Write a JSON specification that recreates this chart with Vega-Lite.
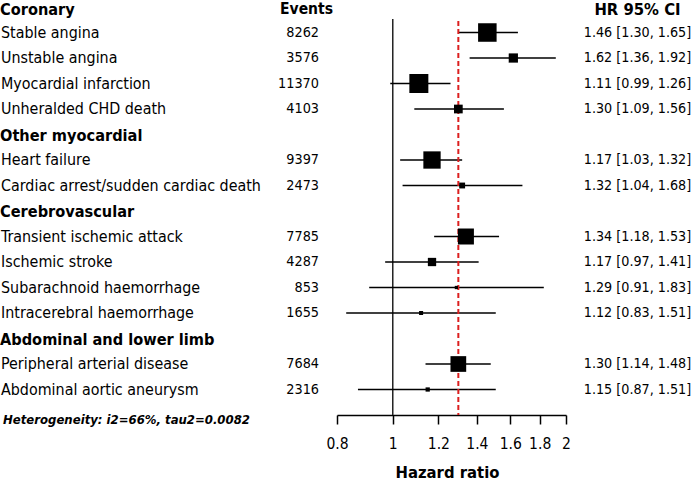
{
  "$schema": "https://vega.github.io/schema/vega-lite/v6.json",
  "padding": 0,
  "background": "white",
  "bounds": "flush",
  "spacing": 0,
  "config": {
    "view": {"stroke": null},
    "font": "DejaVu Sans Condensed",
    "concat": {"spacing": 0}
  },
  "datasets": {
    "rows": [
      {"row": 0, "label": "Coronary", "kind": "group"},
      {"row": 1, "label": "Stable angina", "kind": "item", "events": 8262, "hr": 1.46, "lo": 1.30, "hi": 1.65, "weight": 18.9, "ci": "1.46 [1.30, 1.65]"},
      {"row": 2, "label": "Unstable angina", "kind": "item", "events": 3576, "hr": 1.62, "lo": 1.36, "hi": 1.92, "weight": 4.7, "ci": "1.62 [1.36, 1.92]"},
      {"row": 3, "label": "Myocardial infarction", "kind": "item", "events": 11370, "hr": 1.11, "lo": 0.99, "hi": 1.26, "weight": 19.9, "ci": "1.11 [0.99, 1.26]"},
      {"row": 4, "label": "Unheralded CHD death", "kind": "item", "events": 4103, "hr": 1.30, "lo": 1.09, "hi": 1.56, "weight": 4.2, "ci": "1.30 [1.09, 1.56]"},
      {"row": 5, "label": "Other myocardial", "kind": "group"},
      {"row": 6, "label": "Heart failure", "kind": "item", "events": 9397, "hr": 1.17, "lo": 1.03, "hi": 1.32, "weight": 16.5, "ci": "1.17 [1.03, 1.32]"},
      {"row": 7, "label": "Cardiac arrest/sudden cardiac death", "kind": "item", "events": 2473, "hr": 1.32, "lo": 1.04, "hi": 1.68, "weight": 1.9, "ci": "1.32 [1.04, 1.68]"},
      {"row": 8, "label": "Cerebrovascular", "kind": "group"},
      {"row": 9, "label": "Transient ischemic attack", "kind": "item", "events": 7785, "hr": 1.34, "lo": 1.18, "hi": 1.53, "weight": 14.1, "ci": "1.34 [1.18, 1.53]"},
      {"row": 10, "label": "Ischemic stroke", "kind": "item", "events": 4287, "hr": 1.17, "lo": 0.97, "hi": 1.41, "weight": 3.8, "ci": "1.17 [0.97, 1.41]"},
      {"row": 11, "label": "Subarachnoid haemorrhage", "kind": "item", "events": 853, "hr": 1.29, "lo": 0.91, "hi": 1.83, "weight": 0.6, "ci": "1.29 [0.91, 1.83]"},
      {"row": 12, "label": "Intracerebral haemorrhage", "kind": "item", "events": 1655, "hr": 1.12, "lo": 0.83, "hi": 1.51, "weight": 0.9, "ci": "1.12 [0.83, 1.51]"},
      {"row": 13, "label": "Abdominal and lower limb", "kind": "group"},
      {"row": 14, "label": "Peripheral arterial disease", "kind": "item", "events": 7684, "hr": 1.30, "lo": 1.14, "hi": 1.48, "weight": 13.6, "ci": "1.30 [1.14, 1.48]"},
      {"row": 15, "label": "Abdominal aortic aneurysm", "kind": "item", "events": 2316, "hr": 1.15, "lo": 0.87, "hi": 1.51, "weight": 1.0, "ci": "1.15 [0.87, 1.51]"}
    ]
  },
  "hconcat": [
    {
      "width": 276,
      "height": 415,
      "data": {"name": "rows"},
      "encoding": {
        "y": {"field": "row", "type": "quantitative", "scale": {"domain": [-0.275, 16], "reverse": true, "zero": false, "nice": false}, "axis": null},
        "x": {"datum": 0, "type": "quantitative", "scale": {"domain": [0, 1], "zero": false, "nice": false}, "axis": null}
      },
      "layer": [
        {
          "transform": [{"filter": "datum.kind === 'item'"}],
          "mark": {"type": "text", "align": "left", "baseline": "middle", "fontSize": 15.9, "color": "#000", "dx": 1},
          "encoding": {"text": {"field": "label"}}
        },
        {
          "transform": [{"filter": "datum.kind === 'group' && datum.row > 0"}],
          "mark": {"type": "text", "align": "left", "baseline": "middle", "fontSize": 16.2, "fontWeight": "bold", "color": "#000", "dy": 1},
          "encoding": {"text": {"field": "label"}}
        },
        {
          "transform": [{"filter": "datum.kind === 'group' && datum.row === 0"}],
          "mark": {"type": "text", "align": "left", "baseline": "middle", "fontSize": 16.2, "fontWeight": "bold", "color": "#000", "dy": 3},
          "encoding": {"text": {"field": "label"}}
        },
        {
          "data": {"values": [{"row": 16}]},
          "mark": {"type": "text", "align": "left", "baseline": "middle", "fontSize": 13, "fontWeight": "bold", "fontStyle": "italic", "color": "#000", "dx": 3, "dy": 5, "text": "Heterogeneity: i2=66%, tau2=0.0082"},
          "encoding": {}
        }
      ]
    },
    {
      "width": 61,
      "height": 415,
      "data": {"name": "rows"},
      "encoding": {
        "y": {"field": "row", "type": "quantitative", "scale": {"domain": [-0.275, 16], "reverse": true, "zero": false, "nice": false}, "axis": null},
        "x": {"datum": 1, "type": "quantitative", "scale": {"domain": [0, 1], "zero": false, "nice": false}, "axis": null}
      },
      "layer": [
        {
          "transform": [{"filter": "datum.kind === 'item'"}],
          "mark": {"type": "text", "align": "right", "baseline": "middle", "fontSize": 14.3, "color": "#000", "dx": -18},
          "encoding": {"text": {"field": "events"}}
        },
        {
          "data": {"values": [{"row": 0}]},
          "mark": {"type": "text", "align": "right", "baseline": "middle", "fontSize": 15.5, "fontWeight": "bold", "color": "#000", "dx": -4, "dy": 2, "text": "Events"},
          "encoding": {}
        }
      ]
    },
    {
      "width": 229,
      "height": 415,
      "data": {"name": "rows"},
      "encoding": {
        "y": {"field": "row", "type": "quantitative", "scale": {"domain": [-0.275, 16], "reverse": true, "zero": false, "nice": false}, "axis": null},
        "x": {
          "field": "hr", "type": "quantitative",
          "scale": {"type": "log", "domain": [0.8, 2], "nice": false, "zero": false},
          "axis": {
            "values": [0.8, 1, 1.2, 1.4, 1.6, 1.8, 2],
            "format": "~g",
            "title": "Hazard ratio",
            "grid": false,
            "domainColor": "#000",
            "domainWidth": 1.5,
            "tickColor": "#000",
            "tickWidth": 1.5,
            "tickSize": 9,
            "labelFontSize": 15.5,
            "labelColor": "#000",
            "labelPadding": 12,
            "labelFlush": false,
            "titleFontSize": 16.5,
            "titleFontWeight": "bold",
            "titleColor": "#000",
            "titlePadding": 13,
            "titleX": 110
          }
        }
      },
      "layer": [
        {
          "data": {"values": [{"hr": 1, "top": 0.47, "bottom": 16}]},
          "mark": {"type": "rule", "color": "#222", "strokeWidth": 1.5},
          "encoding": {"y": {"field": "top", "type": "quantitative"}, "y2": {"field": "bottom"}}
        },
        {
          "transform": [{"filter": "datum.kind === 'item'"}],
          "mark": {"type": "rule", "color": "#000", "strokeWidth": 1.5},
          "encoding": {"x": {"field": "lo", "type": "quantitative"}, "x2": {"field": "hi"}}
        },
        {
          "data": {"values": [{"hr": 1.3, "top": 0.55, "bottom": 16}]},
          "mark": {"type": "rule", "color": "#dc1f1f", "strokeWidth": 2, "strokeDash": [5, 3]},
          "encoding": {"y": {"field": "top", "type": "quantitative"}, "y2": {"field": "bottom"}}
        },
        {
          "transform": [{"filter": "datum.kind === 'item'"}],
          "mark": {"type": "point", "shape": "square", "filled": true, "color": "#000", "opacity": 1, "strokeWidth": 0},
          "encoding": {
            "size": {"field": "weight", "type": "quantitative", "scale": {"type": "linear", "domain": [0, 20], "range": [0, 363], "zero": true}, "legend": null}
          }
        }
      ]
    },
    {
      "width": 127,
      "height": 415,
      "data": {"name": "rows"},
      "encoding": {
        "y": {"field": "row", "type": "quantitative", "scale": {"domain": [-0.275, 16], "reverse": true, "zero": false, "nice": false}, "axis": null},
        "x": {"datum": 0.5, "type": "quantitative", "scale": {"domain": [0, 1], "zero": false, "nice": false}, "axis": null}
      },
      "layer": [
        {
          "transform": [{"filter": "datum.kind === 'item'"}],
          "mark": {"type": "text", "align": "center", "baseline": "middle", "fontSize": 14.2, "color": "#000", "dx": 8},
          "encoding": {"text": {"field": "ci"}}
        },
        {
          "data": {"values": [{"row": 0}]},
          "mark": {"type": "text", "align": "center", "baseline": "middle", "fontSize": 16.5, "fontWeight": "bold", "color": "#000", "dx": 8, "dy": 3, "text": "HR 95% CI"},
          "encoding": {}
        }
      ]
    }
  ]
}
